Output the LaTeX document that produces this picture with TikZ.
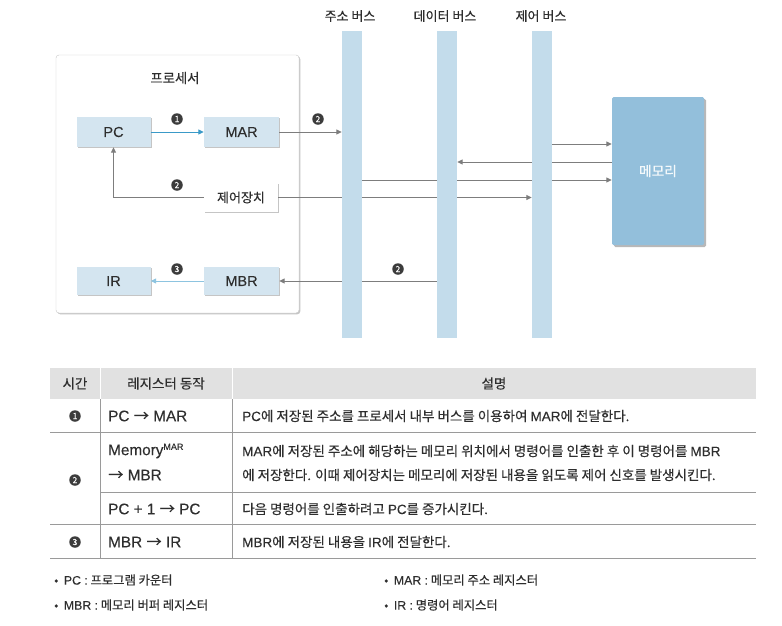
\documentclass[tikz,border=0pt]{standalone}
\usepackage{fontspec}
\setmainfont{Noto Sans CJK KR}[FakeBold=0.3]
\newfontfamily\latf{Liberation Sans}[FakeBold=0.15]
\newcommand\Lt[1]{{\latf #1}}
\newcommand\Ar{{\rmfamily →}}
\usetikzlibrary{arrows.meta,shadows,calc}
\definecolor{boxblue}{HTML}{D4E5F0}
\definecolor{busblue}{HTML}{C3DCEB}
\definecolor{memblue}{HTML}{93BFDB}
\definecolor{arrblue}{HTML}{3A9AC8}
\definecolor{arrlblue}{HTML}{8DC4E0}
\definecolor{arrgray}{HTML}{7D7D7D}
\definecolor{txt}{HTML}{2E2E2E}
\definecolor{numgray}{HTML}{3C3C3C}
\definecolor{hdr}{HTML}{E1E1E1}
\definecolor{rulegray}{HTML}{9A9A9A}
\definecolor{procline}{HTML}{C8C8C8}
\begin{document}
\begin{tikzpicture}[x=1pt,y=-1pt, font=\fontsize{13}{15}\selectfont, text=txt,
  shad/.style={drop shadow={shadow xshift=1.4pt,shadow yshift=-1.4pt,fill=black!50,opacity=0.45}},
  reg/.style={fill=boxblue, minimum width=74pt, minimum height=30pt, inner sep=0pt, shad, font=\latf\fontsize{14.5}{16}\selectfont},
  bus/.style={fill=busblue, minimum width=20pt, minimum height=307pt, inner sep=0pt},
  buslabel/.style={font=\fontsize{13}{15}\selectfont, inner sep=0pt},
  num/.style={circle, fill=numgray, text=white, inner sep=0pt, minimum size=11.5pt, font=\fontsize{8.5}{8.5}\selectfont},
  garrow/.style={draw=arrgray, line width=1pt, -{Triangle[length=5.5pt,width=5pt]}},
  barrow/.style={draw=arrblue, line width=1pt, -{Triangle[length=5.5pt,width=5pt]}},
  lbarrow/.style={draw=arrlblue, line width=1pt, -{Triangle[length=5.5pt,width=5pt]}},
  cell/.style={anchor=west, inner sep=0pt, font=\latf\fontsize{15.3}{17}\selectfont},
  desc/.style={anchor=west, inner sep=0pt, font=\fontsize{13.5}{15}\selectfont},
  hd/.style={inner sep=0pt, font=\fontsize{13.5}{15}\selectfont},
  foot/.style={anchor=west, inner sep=0pt, font=\fontsize{12.3}{14}\selectfont},
  rowrule/.style={draw=rulegray, line width=0.9pt}
]
\useasboundingbox (0,0) rectangle (782,625);
\fill[white] (0,0) rectangle (782,625);

% processor
\node[draw=procline, fill=white, rounded corners=3pt, minimum width=243pt, minimum height=258pt, inner sep=0pt,
  drop shadow={shadow xshift=1.3pt,shadow yshift=-1.3pt,fill=black!50,opacity=0.45}] (proc) at (177.5,184) {};
\node[inner sep=0pt, font=\fontsize{13.3}{15}\selectfont] (proctitle) at (175,78) {프로세서};

\node[reg] (pc) at (113.5,132) {PC};
\node[reg, minimum width=75pt] (mar) at (241.5,132) {MAR};
\node[reg, fill=white, minimum height=29pt, font=\fontsize{13}{15}\selectfont] (ctrl) at (241,197.5) {제어장치};
\node[reg, minimum height=28pt] (ir) at (113.5,281) {IR};
\node[reg, minimum width=75pt, minimum height=28pt] (mbr) at (241.5,281) {MBR};

\coordinate (l144) at (0,144);
\coordinate (l162) at (0,162);
\coordinate (l180) at (0,180);

% buses (positions for reference)
\path (352,184.5) node[bus, draw=none, fill=none] (abus) {};
\path (447,184.5) node[bus, draw=none, fill=none] (dbus) {};
\path (542,184.5) node[bus, draw=none, fill=none] (cbus) {};
\node[inner sep=0pt, minimum width=92pt, minimum height=148pt] (memref) at (658,171) {};

% connectors
\draw[barrow] (pc.east) -- (mar.west);
\draw[garrow] (mar.east) -- (mar.east -| abus.west);
\draw[garrow] (ctrl.west) -| (pc.south);
\draw[garrow] (ctrl.east) -- (ctrl.east -| cbus.west);
\draw[garrow] (abus.east |- l180) -- (memref.west |- l180);
\draw[garrow] (memref.west |- l162) -- (dbus.east |- l162);
\draw[garrow] (cbus.east |- l144) -- (memref.west |- l144);
\draw[garrow] (dbus.west |- mbr.east) -- (mbr.east);
\draw[lbarrow] (mbr.west) -- (ir.east);

% buses drawn over lines
\node[bus] (abusf) at (abus.center) {};
\node[bus] (dbusf) at (dbus.center) {};
\node[bus] (cbusf) at (cbus.center) {};
\node[buslabel] (alab) at (350,16) {주소 버스};
\node[buslabel] (dlab) at (445,16) {데이터 버스};
\node[buslabel] (clab) at (541,16) {제어 버스};

% memory
\node[fill=memblue, inner sep=0pt, rounded corners=1.5pt, minimum width=92pt, minimum height=148pt, text=white!90!memblue,
  font=\fontsize{13.7}{16}\selectfont,
  drop shadow={shadow xshift=2pt,shadow yshift=-2pt,fill=black!55,opacity=0.5}] (mem) at (memref.center) {메모리};

% step numbers in diagram
\node[num] (n1) at (177,119) {1};
\node[num] (n2a) at (318,119) {2};
\node[num] (n2b) at (177,185) {2};
\node[num] (n2c) at (398,269) {2};
\node[num] (n3) at (177,269) {3};

% table
\fill[hdr] (50,368) rectangle (756,399);
\draw[white, line width=1pt] (100,368) -- (100,399) (232,368) -- (232,399);
\draw[draw=rulegray, line width=0.7pt] (100,399) -- (100,558) (232,399) -- (232,558);
\draw[rowrule] (50,432) -- (756,432);
\draw[rowrule] (100,492) -- (756,492);
\draw[rowrule] (50,524) -- (756,524);
\draw[rowrule] (50,558) -- (756,558);

\node[hd] (h1) at (75,383.5) {시간};
\node[hd] (h2) at (166,383.5) {레지스터 동작};
\node[hd] (h3) at (494,383.5) {설명};

\node[num] (t1) at (75,416) {1};
\node[cell] (r1a) at (108,416) {PC \Ar{} MAR};
\node[desc] (r1b) at (242,416) {\Lt{PC}에 저장된 주소를 프로세서 내부 버스를 이용하여 \Lt{MAR}에 전달한다.};

\node[num] (t2) at (75,480) {2};
\node[cell] (r2a) at (108,451) {Memory\textsuperscript{\fontsize{9}{9}\selectfont MAR}};
\node[cell] (r2b) at (108,475) {\Ar{} MBR};
\node[desc] (r2c) at (242,451) {\Lt{MAR}에 저장된 주소에 해당하는 메모리 위치에서 명령어를 인출한 후 이 명령어를 \Lt{MBR}};
\node[desc] (r2d) at (242,475) {에 저장한다. 이때 제어장치는 메모리에 저장된 내용을 읽도록 제어 신호를 발생시킨다.};
\node[cell] (r3a) at (108,509) {PC + 1 \Ar{} PC};
\node[desc] (r3b) at (242,509) {다음 명령어를 인출하려고 \Lt{PC}를 증가시킨다.};

\node[num] (t3) at (75,542) {3};
\node[cell] (r4a) at (108,542) {MBR \Ar{} IR};
\node[desc] (r4b) at (242,542) {\Lt{MBR}에 저장된 내용을 \Lt{IR}에 전달한다.};

% footnotes
\node[foot] (f1) at (54,580) {•\ \ \Lt{PC :} 프로그램 카운터};
\node[foot] (f2) at (384,580) {•\ \ \Lt{MAR :} 메모리 주소 레지스터};
\node[foot] (f3) at (54,605) {•\ \ \Lt{MBR :} 메모리 버퍼 레지스터};
\node[foot] (f4) at (384,605) {•\ \ \Lt{IR :} 명령어 레지스터};
\end{tikzpicture}
\end{document}
